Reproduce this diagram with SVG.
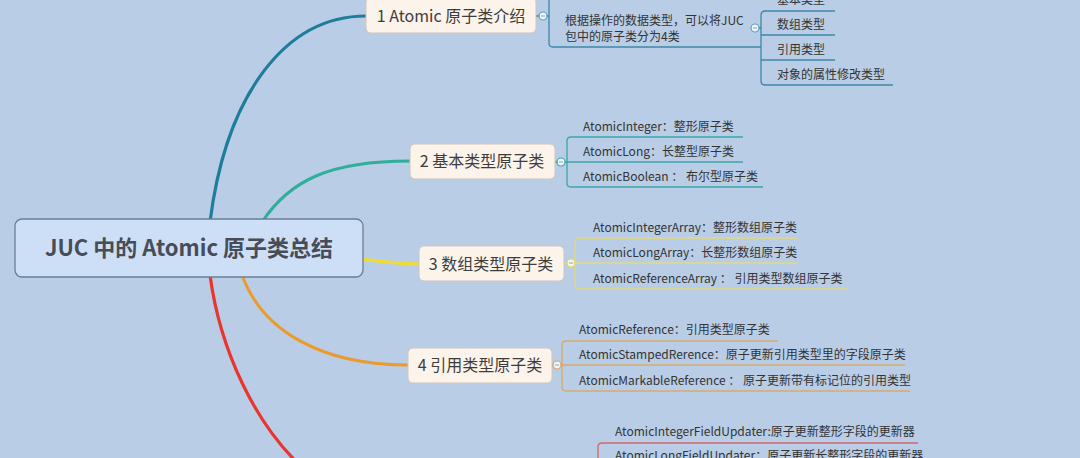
<svg xmlns="http://www.w3.org/2000/svg" width="1080" height="458" viewBox="0 0 1080 458">
<style>
.bg{fill:#bacde6}
.root{fill:#cddff7;stroke:#6b7d98;stroke-width:1.3}
.box{fill:#fcf3ea;stroke:#cfc6bd;stroke-width:1}
.rt{font-family:"Noto Sans CJK SC","Noto Sans",sans-serif;font-size:22px;font-weight:bold;fill:#474c56;text-anchor:middle}
.nt{font-family:"Noto Sans CJK SC","Noto Sans",sans-serif;font-size:16px;fill:#3d3d3d;text-anchor:middle}
.st{font-family:"Noto Sans CJK SC","Noto Sans",sans-serif;font-size:12px;fill:#333}
.br{fill:none;stroke-width:1.3}
.main{fill:none;stroke-linecap:round}
.cc{fill:#eef4f8;stroke-width:1.2}
.mn{stroke:#8aa;stroke-width:1}
</style>
<rect class="bg" x="0" y="0" width="1080" height="458"/>

<g id="connectors">
  <path class="main" d="M210,222 C226,95 285,16 366,16" stroke="#1e7d9b" stroke-width="3.2"/>
  <path class="main" d="M262,222 C290,180 330,161 410,161" stroke="#2fae9c" stroke-width="3"/>
  <path class="main" d="M362,259 C385,262 400,264 419,264" stroke="#ecdc3c" stroke-width="3.4"/>
  <path class="main" d="M242,275 C262,330 320,365 408,365" stroke="#ec9a2c" stroke-width="3"/>
  <path class="main" d="M210,275 C220,350 255,425 305,470" stroke="#e8352e" stroke-width="3.2"/>

  <!-- node 1 branch -->
  <g stroke="#3c88a8">
    <path class="br" d="M536,16 H539 M547,16 H549"/>
    <path class="br" d="M549,-5 V43 Q549,47 553,47 H761"/>
    <path class="br" d="M759,28 H761"/>
    <path class="br" d="M835,11 H765 Q761,11 761,15 V81 Q761,85 765,85 H893"/>
    <path class="br" d="M761,35 H835 M761,60 H835"/>
  </g>
  <!-- node 2 branch -->
  <g stroke="#3aa6a6">
    <path class="br" d="M555,162 H557"/>
    <path class="br" d="M743,137 H571 Q567,137 567,141 V183 Q567,187 571,187 H763"/>
    <path class="br" d="M565,162 H743"/>
  </g>
  <!-- node 3 branch -->
  <g stroke="#e2d87e">
    <path class="br" d="M564,263 H567"/>
    <path class="br" d="M797,238 H579 Q575,238 575,242 V285 Q575,289 579,289 H848"/>
    <path class="br" d="M575,263 H798"/>
  </g>
  <!-- node 4 branch -->
  <g stroke="#d6aa6c">
    <path class="br" d="M552,365 H553"/>
    <path class="br" d="M778,341 H566 Q562,341 562,345 V387 Q562,391 566,391 H910"/>
    <path class="br" d="M561,365 H905"/>
  </g>
  <!-- node 5 branch -->
  <g stroke="#d4676c">
    <path class="br" d="M918,443 H602 Q598,443 598,447 V470"/>
  </g>
</g>

<g id="root">
  <rect class="root" x="15" y="219" width="348" height="58" rx="7"/>
  <text class="rt" x="189" y="256">JUC 中的 Atomic 原子类总结</text>
</g>

<g id="node1">
  <rect class="box" x="366" y="-3" width="170" height="36" rx="5"/>
  <text class="nt" x="451" y="22">1 Atomic 原子类介绍</text>
  <circle class="cc" cx="543" cy="16" r="4" stroke="#5c9fbe"/>
  <line class="mn" x1="541" y1="16" x2="545" y2="16"/>
</g>
<g id="node1-desc">
  <text class="st" x="565" y="25">根据操作的数据类型，可以将JUC</text>
  <text class="st" x="565" y="41">包中的原子类分为4类</text>
  <circle class="cc" cx="755" cy="28" r="4" stroke="#5c9fbe"/>
  <line class="mn" x1="753" y1="28" x2="757" y2="28"/>
</g>
<g id="node1-c1"><text class="st" x="777" y="4">基本类型</text></g>
<g id="node1-c2"><text class="st" x="777" y="29">数组类型</text></g>
<g id="node1-c3"><text class="st" x="777" y="54">引用类型</text></g>
<g id="node1-c4"><text class="st" x="777" y="79">对象的属性修改类型</text></g>

<g id="node2">
  <rect class="box" x="410" y="144" width="145" height="35" rx="5"/>
  <text class="nt" x="482" y="167">2 基本类型原子类</text>
  <circle class="cc" cx="561" cy="162" r="4" stroke="#3aa6a6"/>
  <line class="mn" x1="559" y1="162" x2="563" y2="162"/>
</g>
<g id="node2-c1"><text class="st" x="583" y="131">AtomicInteger：整形原子类</text></g>
<g id="node2-c2"><text class="st" x="583" y="156">AtomicLong：长整型原子类</text></g>
<g id="node2-c3"><text class="st" x="583" y="181">AtomicBoolean ： 布尔型原子类</text></g>

<g id="node3">
  <rect class="box" x="419" y="246" width="145" height="35" rx="5"/>
  <text class="nt" x="491" y="270">3 数组类型原子类</text>
  <circle class="cc" cx="571" cy="263" r="4" stroke="#e8d84a"/>
  <line class="mn" x1="569" y1="263" x2="573" y2="263"/>
</g>
<g id="node3-c1"><text class="st" x="593" y="232">AtomicIntegerArray：整形数组原子类</text></g>
<g id="node3-c2"><text class="st" x="593" y="257">AtomicLongArray：长整形数组原子类</text></g>
<g id="node3-c3"><text class="st" x="593" y="283">AtomicReferenceArray ： 引用类型数组原子类</text></g>

<g id="node4">
  <rect class="box" x="408" y="348" width="144" height="35" rx="5"/>
  <text class="nt" x="480" y="371">4 引用类型原子类</text>
  <circle class="cc" cx="557" cy="365" r="4" stroke="#dba260"/>
  <line class="mn" x1="555" y1="365" x2="559" y2="365"/>
</g>
<g id="node4-c1"><text class="st" x="579" y="334">AtomicReference：引用类型原子类</text></g>
<g id="node4-c2"><text class="st" x="579" y="359">AtomicStampedRerence：原子更新引用类型里的字段原子类</text></g>
<g id="node4-c3"><text class="st" x="579" y="385">AtomicMarkableReference ： 原子更新带有标记位的引用类型</text></g>

<g id="node5-c1"><text class="st" x="615" y="436">AtomicIntegerFieldUpdater:原子更新整形字段的更新器</text></g>
<g id="node5-c2"><text class="st" x="615" y="460">AtomicLongFieldUpdater：原子更新长整形字段的更新器</text></g>
</svg>
